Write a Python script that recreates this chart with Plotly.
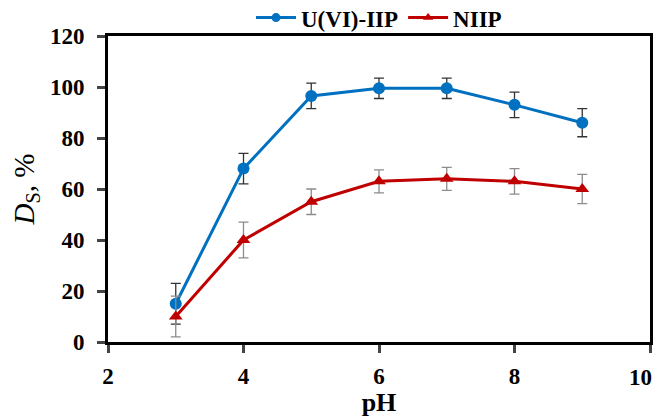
import plotly.graph_objects as go

ph = [3, 4, 5, 6, 7, 8, 9]
u_iip = [15, 68, 96.5, 99.5, 99.5, 93, 86]
u_iip_err = [8, 6, 5, 4, 4, 5, 5.5]
niip = [10, 40, 55, 63, 64, 63, 60]
niip_err = [8, 7, 5, 4.5, 4.5, 5, 5.7]
series_names = ["U(VI)-IIP", "NIIP"]
x_tickvals = [2, 4, 6, 8, 10]
x_ticktext = ["2", "4", "6", "8", "10"]
y_tickvals = [0, 20, 40, 60, 80, 100, 120]

FONT = "Liberation Serif"
BLUE = "#0070C0"
RED = "#C00000"

fig = go.Figure()
fig.add_trace(go.Scatter(
    x=ph, y=u_iip, name=series_names[0], mode="lines+markers", showlegend=False,
    line=dict(color=BLUE, width=3),
    marker=dict(symbol="circle", size=12, color=BLUE),
    error_y=dict(type="data", array=u_iip_err, color="#333333", thickness=1.3, width=5),
))
fig.add_trace(go.Scatter(
    x=ph, y=niip, name=series_names[1], mode="lines+markers", showlegend=False,
    line=dict(color=RED, width=3),
    marker=dict(symbol="triangle-up", size=12, color=RED),
    error_y=dict(type="data", array=niip_err, color="#8C8C8C", thickness=1.3, width=5),
))
# legend-only entries with smaller symbols (Excel style)
fig.add_trace(go.Scatter(
    x=[None], y=[None], name=series_names[0], mode="lines+markers",
    line=dict(color=BLUE, width=3), marker=dict(symbol="circle", size=9, color=BLUE),
))
fig.add_trace(go.Scatter(
    x=[None], y=[None], name=series_names[1], mode="lines+markers",
    line=dict(color=RED, width=3), marker=dict(symbol="triangle-up", size=9, color=RED),
))

# last x tick label is drawn as an annotation so it stays inside the picture (as in the reference)
shown_ticktext = x_ticktext[:-1] + [""]
fig.add_annotation(
    x=x_tickvals[-1], xref="x", y=0, yref="paper", yanchor="middle", xanchor="center",
    yshift=-35, xshift=-10, showarrow=False,
    text="<b>" + x_ticktext[-1] + "</b>", font=dict(family=FONT, size=23, color="black"),
)

# page body adds an 8px offset; compensate so the plot area lands where the reference has it
fig.update_layout(
    width=656, height=409,
    margin=dict(l=100, r=14, t=28, b=75, autoexpand=False),
    plot_bgcolor="white", paper_bgcolor="white",
    font=dict(family=FONT, size=20, color="black"),
    showlegend=True,
    legend=dict(orientation="h", x=0.5, xanchor="center", y=1.06, yanchor="middle",
                font=dict(family=FONT, size=23, color="black", weight="bold"),
                bgcolor="rgba(0,0,0,0)", itemwidth=40),
)
fig.update_xaxes(
    range=[2, 10], tickvals=x_tickvals, ticktext=shown_ticktext, ticks="outside", ticklen=8, tickwidth=2.5,
    showline=True, linecolor="black", linewidth=3, mirror=True, showgrid=False, zeroline=False,
    tickfont=dict(family=FONT, size=23, weight="bold"), ticklabelstandoff=3,
    title=dict(text="<b>pH</b>", font=dict(family=FONT, size=26), standoff=4),
    automargin=False,
)
fig.update_yaxes(
    range=[0, 120], tickvals=y_tickvals, ticks="outside", ticklen=8, tickwidth=2.5,
    showline=True, linecolor="black", linewidth=3, mirror=True, showgrid=False, zeroline=False,
    tickfont=dict(family=FONT, size=23, weight="bold"), ticklabelstandoff=8,
    title=dict(text="<i>D</i><sub>S</sub>, %", font=dict(family=FONT, size=29), standoff=14),
    automargin=False,
)

fig.write_html("out.html")
